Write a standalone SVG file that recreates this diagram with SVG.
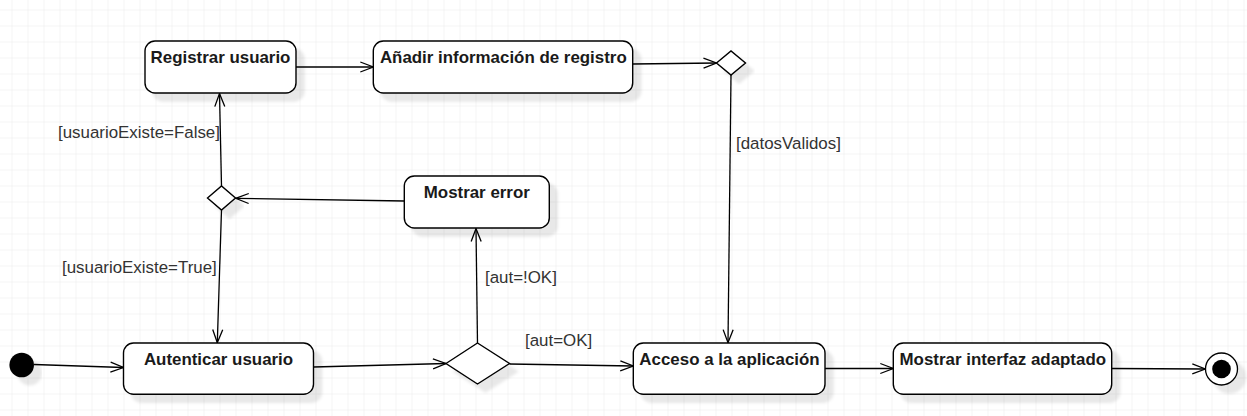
<svg xmlns="http://www.w3.org/2000/svg" width="1247" height="416" viewBox="0 0 1247 416">
  <defs>
    <pattern id="grid" x="11.5" y="9.5" width="16" height="16" patternUnits="userSpaceOnUse">
      <path d="M 16 0 L 0 0 0 16" fill="none" stroke="#e9e9e9" stroke-width="1"/>
    </pattern>
    <filter id="shadow" x="-20%" y="-20%" width="150%" height="160%">
      <feDropShadow dx="8" dy="8" stdDeviation="1.5" flood-color="#000" flood-opacity="0.09"/>
    </filter>
    <marker id="open" markerUnits="userSpaceOnUse" markerWidth="18" markerHeight="14" viewBox="-15 -7 18 14" refX="0" refY="0" orient="auto">
      <path d="M -13 -5 L 0 0 L -13 5" fill="none" stroke="#000" stroke-width="1.3"/>
    </marker>
  </defs>
  <style>
    .node { fill: #fff; stroke: #000; stroke-width: 1.4; }
    .title { font-family: "Liberation Sans", Arial, sans-serif; font-size: 16.9px; font-weight: bold; fill: #1a1a1a; text-anchor: middle; }
    .label { font-family: "Liberation Sans", Arial, sans-serif; font-size: 16.9px; fill: #333; }
    .edge { fill: none; stroke: #000; stroke-width: 1.3; marker-end: url(#open); }
  </style>

  <rect width="1247" height="416" fill="#fff"/>
  <rect width="1247" height="416" fill="url(#grid)"/>

  <g id="connectors">
    <path class="edge" d="M 34 364.5 L 123.5 367.5"/>
    <path class="edge" d="M 313.5 367 L 446 363.5"/>
    <path class="edge" d="M 509.5 364 L 633.3 366"/>
    <path class="edge" d="M 825 368.5 L 893.3 368.5"/>
    <path class="edge" d="M 1111.7 368.5 L 1205.3 369"/>
    <path class="edge" d="M 477.5 343 L 476 228.5"/>
    <path class="edge" d="M 731 75 L 728 342.7"/>
    <path class="edge" d="M 221.5 210 L 217.3 342.7"/>
    <path class="edge" d="M 221.5 186 L 219.5 93.5"/>
    <path class="edge" d="M 296 67 L 373.3 67"/>
    <path class="edge" d="M 632.7 64 L 716.5 63"/>
    <path class="edge" d="M 404.3 201 L 235.7 198.3"/>
    <text class="label" x="58" y="137.5">[usuarioExiste=False]</text>
    <text class="label" x="62" y="272.5">[usuarioExiste=True]</text>
    <text class="label" x="736" y="148.5">[datosValidos]</text>
    <text class="label" x="485" y="283">[aut=!OK]</text>
    <text class="label" x="525" y="346">[aut=OK]</text>
  </g>

  <g id="initial">
    <circle cx="21.7" cy="365" r="12.3" fill="#000" filter="url(#shadow)"/>
  </g>

  <g id="registrar-usuario">
    <rect class="node" x="145" y="41" width="151" height="52" rx="10" filter="url(#shadow)"/>
    <text class="title" x="220.5" y="62.7">Registrar usuario</text>
  </g>

  <g id="anadir-informacion">
    <rect class="node" x="373.3" y="41" width="259.4" height="52" rx="10" filter="url(#shadow)"/>
    <text class="title" x="503.3" y="62.7">Añadir información de registro</text>
  </g>

  <g id="decision-datos">
    <polygon class="node" points="716.5,63 731,51 745.5,63 731,75" filter="url(#shadow)"/>
  </g>

  <g id="decision-usuario">
    <polygon class="node" points="207.5,198 221.5,186 235.5,198 221.5,210" filter="url(#shadow)"/>
  </g>

  <g id="mostrar-error">
    <rect class="node" x="404.3" y="176" width="145" height="52" rx="10" filter="url(#shadow)"/>
    <text class="title" x="476.8" y="197.7">Mostrar error</text>
  </g>

  <g id="autenticar-usuario">
    <rect class="node" x="123.5" y="343" width="190" height="51.3" rx="10" filter="url(#shadow)"/>
    <text class="title" x="218.5" y="365">Autenticar usuario</text>
  </g>

  <g id="decision-aut">
    <polygon class="node" points="446,363.5 477.5,343 509.5,363.5 477.5,384" filter="url(#shadow)"/>
  </g>

  <g id="acceso-aplicacion">
    <rect class="node" x="633.3" y="343" width="191.7" height="51.3" rx="10" filter="url(#shadow)"/>
    <text class="title" x="729.5" y="365">Acceso a la aplicación</text>
  </g>

  <g id="mostrar-interfaz">
    <rect class="node" x="893.3" y="343" width="218.4" height="51.3" rx="10" filter="url(#shadow)"/>
    <text class="title" x="1002.8" y="365">Mostrar interfaz adaptado</text>
  </g>

  <g id="final">
    <circle cx="1221.5" cy="369" r="16" fill="#fff" stroke="#000" stroke-width="1.3" filter="url(#shadow)"/>
    <circle cx="1221.5" cy="369" r="9.3" fill="#000"/>
  </g>
</svg>
